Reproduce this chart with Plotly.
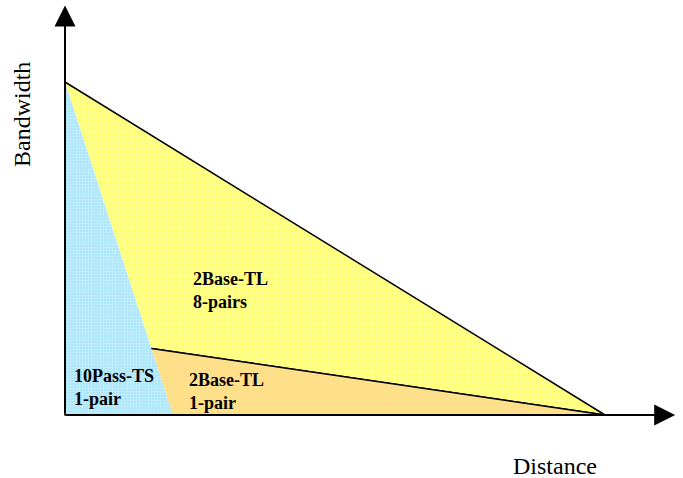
import plotly.graph_objects as go

# conceptual chart: normalised distance (x) vs bandwidth (y)
pass_ts_x = [0, 0, 0.2]
pass_ts_y = [1, 0, 0]
base_8_x = [0, 1, 0.16]
base_8_y = [1, 0, 0.2]
base_1_x = [0.16, 1, 0.2]
base_1_y = [0.2, 0, 0]

labels = ['10Pass-TS<br>1-pair', '2Base-TL<br>1-pair', '2Base-TL<br>8-pairs']
label_x = [0.013, 0.226, 0.233]
label_y = [0.083, 0.072, 0.375]

fig = go.Figure()

fig.add_trace(go.Scatter(x=base_8_x, y=base_8_y, fill='toself', mode='lines',
                         line=dict(color='black', width=1.5),
                         fillcolor='#FFFF78',
                         fillpattern=dict(shape='.', bgcolor='#FFFF70', fgcolor='#FFFFD8',
                                          size=3, solidity=0.4)))
fig.add_trace(go.Scatter(x=pass_ts_x, y=pass_ts_y, fill='toself', mode='lines',
                         line=dict(color='black', width=1.5),
                         fillcolor='#B4EAFA',
                         fillpattern=dict(shape='.', bgcolor='#ACE6FA', fgcolor='#EAF9FF',
                                          size=3, solidity=0.4)))
fig.add_trace(go.Scatter(x=base_1_x, y=base_1_y, fill='toself', mode='lines',
                         line=dict(color='black', width=1.5),
                         fillcolor='#FFE08A'))

# axes drawn as arrows
fig.add_annotation(x=0, y=1.23, ax=0, ay=0, xref='x', yref='y', axref='x', ayref='y',
                   text='', showarrow=True, arrowhead=2, arrowsize=2.1, arrowwidth=2,
                   arrowcolor='black')
fig.add_annotation(x=1.13, y=0, ax=0, ay=0, xref='x', yref='y', axref='x', ayref='y',
                   text='', showarrow=True, arrowhead=2, arrowsize=2.1, arrowwidth=2,
                   arrowcolor='black')

for t, lx, ly in zip(labels, label_x, label_y):
    fig.add_annotation(x=lx, y=ly, text='<b>' + t + '</b>', showarrow=False,
                       xanchor='left', yanchor='middle', align='left',
                       font=dict(family='Liberation Serif', size=18, color='black'))

fig.add_annotation(x=22 / 683, y=1 - 115 / 478, xref='paper', yref='paper', text='Bandwidth',
                   showarrow=False, textangle=-90, xanchor='center', yanchor='middle',
                   font=dict(family='Liberation Serif', size=24, color='black'))
fig.add_annotation(x=555 / 683, y=1 - 466 / 478, xref='paper', yref='paper', text='Distance',
                   showarrow=False, xanchor='center', yanchor='middle',
                   font=dict(family='Liberation Serif', size=24, color='black'))

fig.update_layout(
    width=683, height=478,
    margin=dict(l=0, r=0, t=0, b=0),
    showlegend=False,
    plot_bgcolor='white', paper_bgcolor='white',
    xaxis=dict(range=[-65 / 540, 618 / 540], visible=False, fixedrange=True),
    yaxis=dict(range=[-63 / 333, 415 / 333], visible=False, fixedrange=True),
)

fig.write_html("out.html", config={'displayModeBar': False},
               post_script="document.body.style.margin='0';document.body.style.overflow='hidden';")
